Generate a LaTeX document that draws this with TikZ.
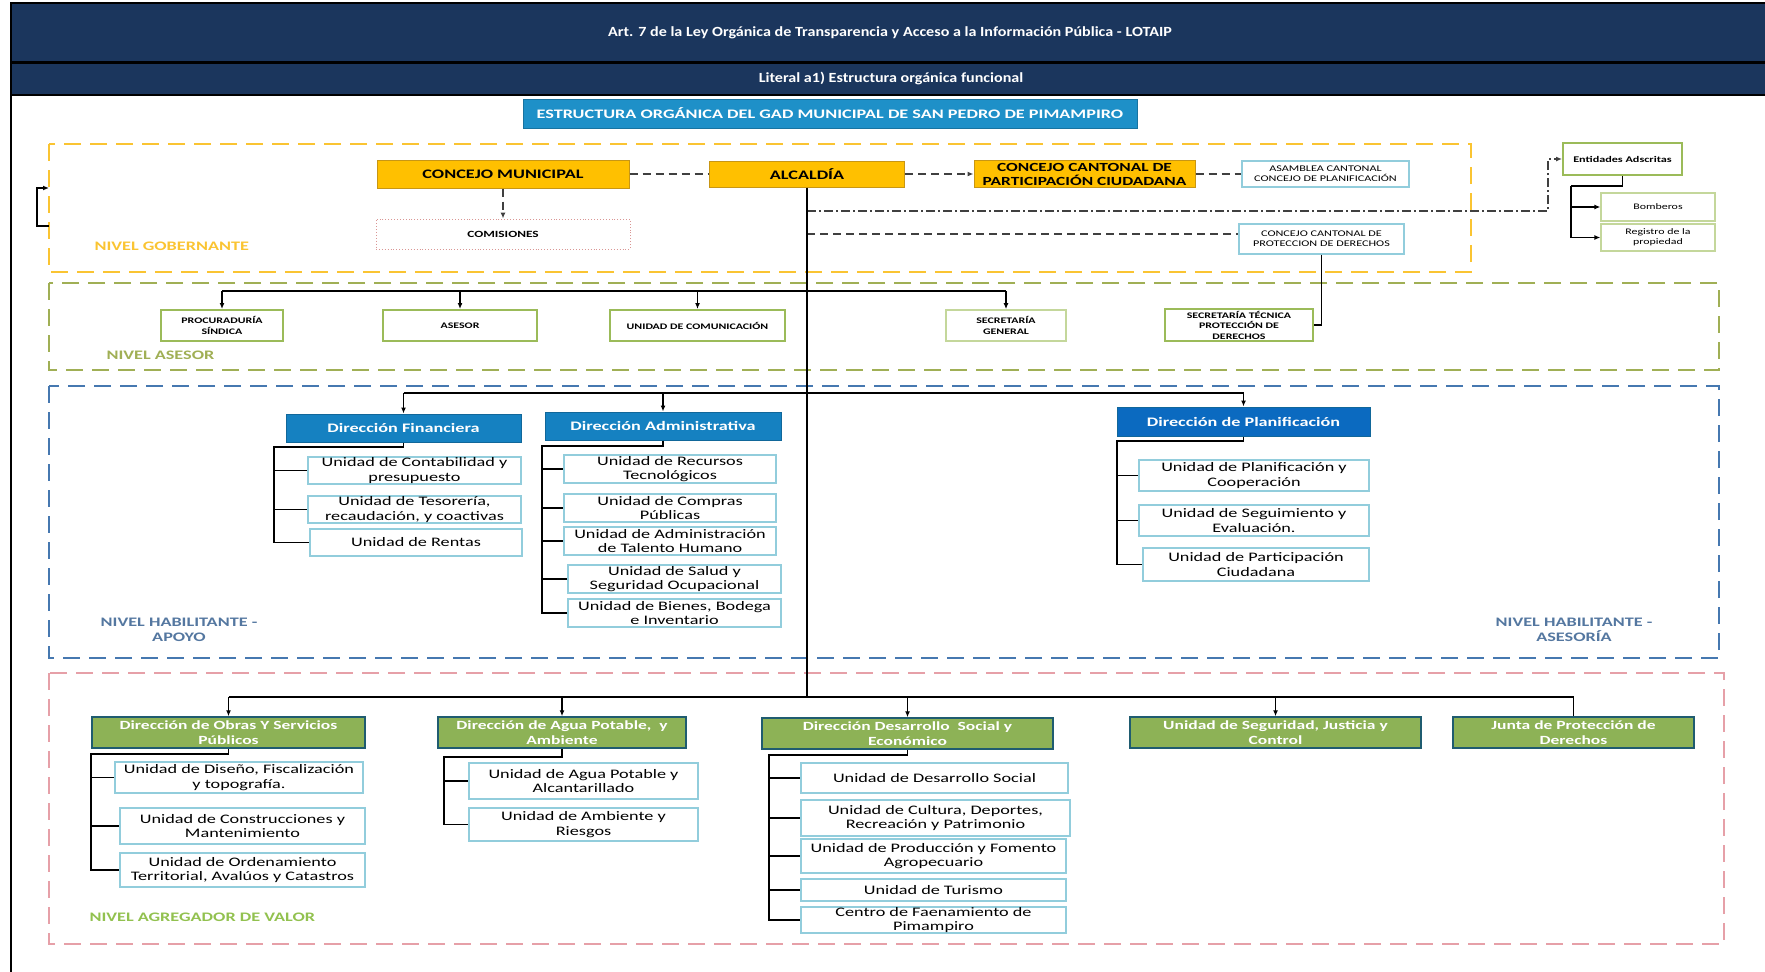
\documentclass[tikz,border=0pt]{standalone}
\usepackage{fontspec}
\setmainfont[FakeStretch=1.4]{Carlito}
\newfontfamily\hdrfont[FakeStretch=1.15]{Carlito}
\usetikzlibrary{arrows.meta, positioning, calc}
\definecolor{gadnavy}{rgb}{0.106, 0.212, 0.365}
\definecolor{gadtitle}{rgb}{0.118, 0.565, 0.784}
\definecolor{gadgold}{rgb}{1.0, 0.753, 0}
\definecolor{gadgoldedge}{rgb}{0.784, 0.588, 0.078}
\definecolor{gadyellow}{rgb}{0.98, 0.769, 0.196}
\definecolor{gadolive}{rgb}{0.627, 0.686, 0.333}
\definecolor{gadleaf}{rgb}{0.608, 0.733, 0.349}
\definecolor{gadpale}{rgb}{0.769, 0.843, 0.608}
\definecolor{gadaqua}{rgb}{0.573, 0.804, 0.863}
\definecolor{gadframeblue}{rgb}{0.275, 0.471, 0.69}
\definecolor{gaddir}{rgb}{0.082, 0.506, 0.757}
\definecolor{gadplan}{rgb}{0.043, 0.416, 0.753}
\definecolor{gadslate}{rgb}{0.329, 0.467, 0.627}
\definecolor{gadpink}{rgb}{0.902, 0.627, 0.659}
\definecolor{gadlime}{rgb}{0.573, 0.757, 0.31}
\definecolor{gadgreen}{rgb}{0.553, 0.698, 0.337}
\definecolor{gadteal}{rgb}{0.122, 0.361, 0.439}
\definecolor{gadrose}{rgb}{0.851, 0.588, 0.58}
\newcommand{\sizeto}[2]{\fontsize{#1}{#2}\selectfont}
\tikzset{
    hdr/.style={text=white, font=\hdrfont\bfseries\sizeto{14}{16}},
    frame/.style={dash pattern=on 17pt off 9pt, line width=2pt},
    lvlabel/.style={font=\bfseries\sizeto{13}{15}, align=center},
    titlebox/.style={draw=gadtitle!80!black, fill=gadtitle, text=white, line width=1pt, inner sep=0pt, font=\bfseries\sizeto{13}{15}},
    govbox/.style={draw=gadgoldedge, fill=gadgold, line width=1pt, inner sep=0pt, align=center, font=\bfseries\sizeto{13}{14}},
    smallbox/.style={draw=gadaqua, fill=white, line width=1.2pt, inner sep=0pt, align=center, font=\sizeto{8.7}{10.3}},
    palebox/.style={draw=gadpale, fill=white, line width=1.2pt, inner sep=0pt, align=center, font=\sizeto{8.5}{10.3}},
    asesbox/.style={draw=gadleaf, fill=white, line width=2pt, inner sep=0pt, align=center, font=\bfseries\sizeto{8.5}{10.5}},
    dirbox/.style={draw=gaddir!80!black, fill=gaddir, text=white, line width=1pt, inner sep=0pt, font=\bfseries\sizeto{13}{15}},
    unitbox/.style={draw=gadaqua, fill=white, line width=1.2pt, inner sep=0pt, align=center, font=\sizeto{13}{14.8}},
    agrbox/.style={draw=gadteal, fill=gadgreen, text=white, line width=1.5pt, inner sep=0pt, align=center, font=\bfseries\sizeto{12.5}{15}},
    link/.style={line width=1.2pt},
    dlink/.style={line width=1.2pt, draw=black!75, dash pattern=on 8pt off 5pt},
    ddlink/.style={line width=1.2pt, draw=black!75, dash pattern=on 9pt off 3pt on 2pt off 3pt},
    tip/.style={-{Latex[length=6pt, width=5pt]}},
}

\begin{document}
\begin{tikzpicture}[x=1pt, y=-1pt]
        \useasboundingbox (0,0) rectangle (1765,972);

        \fill [gadnavy] (11,3) rectangle (1765,95);
        \draw [line width=2.5pt] (11,3) -- (1765,3);
        \draw [line width=2.5pt] (11,62.5) -- (1765,62.5);
        \draw [line width=2.5pt] (11,95) -- (1765,95);
        \draw [line width=1.8pt] (11,2) -- (11,972);
        \node [hdr] (Hd1) at (890,33) {Art. 7 de la Ley Orgánica de Transparencia y Acceso a la Información Pública - LOTAIP};
        \node [hdr] (Hd2) at (891,78) {Literal a1) Estructura orgánica funcional};

        \node [titlebox, minimum width=614pt, minimum height=29pt] (Tit) at (830,113.5) {ESTRUCTURA ORGÁNICA DEL GAD MUNICIPAL DE SAN PEDRO DE PIMAMPIRO};

        \draw [frame, gadyellow] (49,144) rectangle (1471,272);
        \draw [frame, gadolive] (49,283) rectangle (1719,370);
        \draw [frame, gadframeblue] (49,386) rectangle (1719,658);
        \draw [frame, gadpink] (49,673) rectangle (1724,944);

        \node [lvlabel, text=gadyellow, anchor=west] (LGob) at (91,246) {NIVEL GOBERNANTE};
        \node [lvlabel, text=gadolive, anchor=west] (LAse) at (103,355) {NIVEL ASESOR};
        \node [lvlabel, text=gadslate] (LApo) at (179,630) {NIVEL HABILITANTE -\\APOYO};
        \node [lvlabel, text=gadslate] (LAsr) at (1574,630) {NIVEL HABILITANTE -\\ASESORÍA};
        \node [lvlabel, text=gadlime, anchor=west] (LAgr) at (86,917) {NIVEL AGREGADOR DE VALOR};

        \node [govbox, minimum width=252pt, minimum height=28pt] (ConM) at (503,174) {CONCEJO MUNICIPAL};
        \node [govbox, minimum width=195pt, minimum height=26pt] (Alc) at (807,174) {ALCALDÍA};
        \node [govbox, font=\bfseries\sizeto{12.4}{14}, minimum width=221pt, minimum height=27pt] (CCPC) at (1084.5,174) {CONCEJO CANTONAL DE\\PARTICIPACIÓN CIUDADANA};
        \node [smallbox, minimum width=167pt, minimum height=26pt] (Asam) at (1325.5,174) {ASAMBLEA CANTONAL\\CONCEJO DE PLANIFICACIÓN};
        \node [draw=gadrose, dotted, line width=0.9pt, inner sep=0pt, font=\bfseries\sizeto{9.5}{11}, minimum width=254pt, minimum height=30pt] (Comis) at (503,234) {COMISIONES};
        \node [smallbox, minimum width=165pt, minimum height=30pt] (CCPD) at (1321.5,239) {CONCEJO CANTONAL DE\\PROTECCION DE DERECHOS};
        \node [asesbox, font=\bfseries\sizeto{8.7}{10}, minimum width=119pt, minimum height=32pt] (Ent) at (1622.5,159) {Entidades Adscritas};
        \node [palebox, minimum width=114pt, minimum height=28pt] (Bomb) at (1658,207) {Bomberos};
        \node [palebox, minimum width=114pt, minimum height=27pt] (Reg) at (1658,237.5) {Registro de la\\propiedad};

        \node [asesbox, minimum width=122pt, minimum height=31pt] (Proc) at (222,325.5) {PROCURADURÍA\\SÍNDICA};
        \node [asesbox, minimum width=154pt, minimum height=31pt] (Ases) at (460,325.5) {ASESOR};
        \node [asesbox, minimum width=175pt, minimum height=31pt] (UCom) at (697.5,325.5) {UNIDAD DE COMUNICACIÓN};
        \node [palebox, font=\bfseries\sizeto{8.5}{10.5}, line width=1.6pt, minimum width=120pt, minimum height=31pt] (SecG) at (1006,325.5) {SECRETARÍA\\GENERAL};
        \node [asesbox, minimum width=148pt, minimum height=32pt] (SecT) at (1239,325) {SECRETARÍA TÉCNICA\\PROTECCIÓN DE\\DERECHOS};

        \node [dirbox, minimum width=235pt, minimum height=28pt] (DFin) at (403.5,428) {Dirección Financiera};
        \node [dirbox, minimum width=236pt, minimum height=28pt] (DAdm) at (663,426) {Dirección Administrativa};
        \node [dirbox, fill=gadplan, minimum width=253pt, minimum height=29pt] (DPla) at (1243.5,421.5) {Dirección de Planificación};

        \node [unitbox, minimum width=213pt, minimum height=27pt] (Uf1) at (414.5,470.5) {Unidad de Contabilidad y\\presupuesto};
        \node [unitbox, minimum width=213pt, minimum height=27pt] (Uf2) at (414.5,509.5) {Unidad de Tesorería,\\recaudación, y coactivas};
        \node [unitbox, minimum width=212pt, minimum height=27pt] (Uf3) at (416,542.5) {Unidad de Rentas};

        \node [unitbox, minimum width=212pt, minimum height=28pt] (Ua1) at (670,469) {Unidad de Recursos\\Tecnológicos};
        \node [unitbox, minimum width=212pt, minimum height=28pt] (Ua2) at (670,508) {Unidad de Compras\\Públicas};
        \node [unitbox, minimum width=212pt, minimum height=28pt] (Ua3) at (670,541) {Unidad de Administración\\de Talento Humano};
        \node [unitbox, minimum width=213pt, minimum height=28pt] (Ua4) at (674.5,579) {Unidad de Salud y\\Seguridad Ocupacional};
        \node [unitbox, minimum width=213pt, minimum height=28pt] (Ua5) at (674.5,613) {Unidad de Bienes, Bodega\\e Inventario};

        \node [unitbox, minimum width=230pt, minimum height=31pt] (Up1) at (1254,475.5) {Unidad de Planificación y\\Cooperación};
        \node [unitbox, minimum width=230pt, minimum height=31pt] (Up2) at (1254,520.5) {Unidad de Seguimiento y\\Evaluación.};
        \node [unitbox, minimum width=226pt, minimum height=33pt] (Up3) at (1256,564.5) {Unidad de Participación\\Ciudadana};

        \node [agrbox, minimum width=273pt, minimum height=31pt] (DObr) at (228.5,732.5) {Dirección de Obras Y Servicios\\Públicos};
        \node [agrbox, minimum width=248pt, minimum height=31pt] (DAgu) at (562,732.5) {Dirección de Agua Potable, \ y\\Ambiente};
        \node [agrbox, minimum width=291pt, minimum height=31pt] (DDes) at (907.5,733.5) {Dirección Desarrollo \ Social y\\Económico};
        \node [agrbox, minimum width=291pt, minimum height=31pt] (USeg) at (1275.5,732.5) {Unidad de Seguridad, Justicia y\\Control};
        \node [agrbox, minimum width=241pt, minimum height=31pt] (Junta) at (1573.5,732.5) {Junta de Protección de\\Derechos};

        \node [unitbox, minimum width=248pt, minimum height=31pt] (Uo1) at (239,777.5) {Unidad de Diseño, Fiscalización\\y topografía.};
        \node [unitbox, minimum width=245pt, minimum height=36pt] (Uo2) at (242.5,826) {Unidad de Construcciones y\\Mantenimiento};
        \node [unitbox, minimum width=245pt, minimum height=34pt] (Uo3) at (242.5,870) {Unidad de Ordenamiento\\Territorial, Avalúos y Catastros};

        \node [unitbox, minimum width=229pt, minimum height=36pt] (Ug1) at (583.5,781) {Unidad de Agua Potable y\\Alcantarillado};
        \node [unitbox, minimum width=229pt, minimum height=33pt] (Ug2) at (583.5,824.5) {Unidad de Ambiente y\\Riesgos};

        \node [unitbox, minimum width=267pt, minimum height=30pt] (Ud1) at (934.5,778) {Unidad de Desarrollo Social};
        \node [unitbox, minimum width=269pt, minimum height=36pt] (Ud2) at (935.5,818) {Unidad de Cultura, Deportes,\\Recreación y Patrimonio};
        \node [unitbox, minimum width=265pt, minimum height=34pt] (Ud3) at (933.5,856) {Unidad de Producción y Fomento\\Agropecuario};
        \node [unitbox, minimum width=265pt, minimum height=22pt] (Ud4) at (933.5,890) {Unidad de Turismo};
        \node [unitbox, minimum width=265pt, minimum height=26pt] (Ud5) at (933.5,920) {Centro de Faenamiento de\\Pimampiro};

        \coordinate (entB) at (807,211);
        \coordinate (entK) at (1548,211);
        \coordinate (entJ) at (1571,186);
        \coordinate (cpdB) at (807,234);
        \coordinate (aseB) at (807,291);
        \coordinate (habB) at (807,393);
        \coordinate (agrB) at (807,697);
        \coordinate (brA) at (49,226);
        \coordinate (brB) at (49,188);
        \coordinate (finS) at (274,447);
        \coordinate (admS) at (542,446);
        \coordinate (plaS) at (1117,441);
        \coordinate (obrS) at (91,754);
        \coordinate (aguS) at (444,757);
        \coordinate (desS) at (769,755);

        \draw [dlink] (ConM) -- (Alc);
        \draw [dlink, tip] (Alc) -- (CCPC);
        \draw [dlink] (CCPC) -- (Asam);
        \draw [dlink, tip] (ConM) -- (Comis);
        \draw [dlink] (cpdB) -- (cpdB -| CCPD.west);
        \draw [ddlink, tip] (entB) -- (entK) |- (Ent.west);
        \draw [link, tip] (brA) -- ++(-12,0) |- (brB);
        \draw [link] (Ent.south) |- (entJ);
        \draw [link, tip] (entJ) |- (Bomb.west);
        \draw [link, tip] (entJ) |- (Reg.west);
        \draw [link] (CCPD.south) |- (SecT.east);

        \draw [link] (Alc.south) -- (agrB);
        \draw [link] (aseB -| Proc.north) -- (aseB -| SecG.north);
        \foreach \nd in {Proc, Ases, UCom, SecG}
            \draw [link, tip] (aseB -| \nd.north) -- (\nd.north);
        \draw [link] (habB -| DFin.north) -- (habB -| DPla.north);
        \foreach \nd in {DFin, DAdm, DPla}
            \draw [link, tip] (habB -| \nd.north) -- (\nd.north);
        \draw [link] (agrB -| DObr.north) -- (agrB -| Junta.north);
        \foreach \nd in {DObr, DAgu, DDes, USeg}
            \draw [link, tip] (agrB -| \nd.north) -- (\nd.north);
        \draw [link] (agrB -| Junta.north) -- (Junta.north);

        \draw [link] (DFin.south) |- (finS) |- (Uf3.west);
        \foreach \nd in {Uf1, Uf2}
            \draw [link] (finS |- \nd.west) -- (\nd.west);
        \draw [link] (DAdm.south) |- (admS) |- (Ua5.west);
        \foreach \nd in {Ua1, Ua2, Ua3, Ua4}
            \draw [link] (admS |- \nd.west) -- (\nd.west);
        \draw [link] (DPla.south) |- (plaS) |- (Up3.west);
        \foreach \nd in {Up1, Up2}
            \draw [link] (plaS |- \nd.west) -- (\nd.west);
        \draw [link] (DObr.south) |- (obrS) |- (Uo3.west);
        \foreach \nd in {Uo1, Uo2}
            \draw [link] (obrS |- \nd.west) -- (\nd.west);
        \draw [link] (DAgu.south) |- (aguS) |- (Ug2.west);
        \draw [link] (aguS |- Ug1.west) -- (Ug1.west);
        \draw [link] (DDes.south) |- (desS) |- (Ud5.west);
        \foreach \nd in {Ud1, Ud2, Ud3, Ud4}
            \draw [link] (desS |- \nd.west) -- (\nd.west);
    \end{tikzpicture}
\end{document}
